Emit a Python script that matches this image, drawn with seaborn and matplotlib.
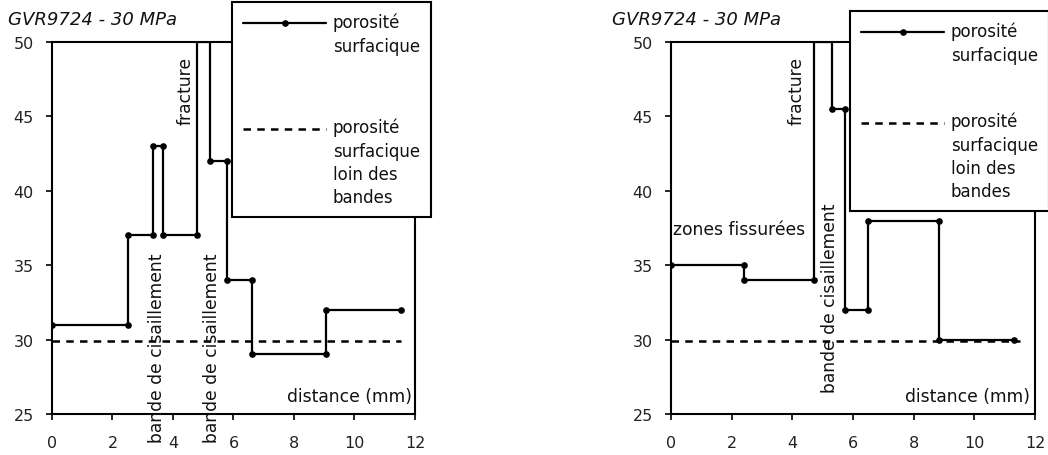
import numpy as np
import pandas as pd
import seaborn as sns
import matplotlib.pyplot as plt
from matplotlib.legend_handler import HandlerLine2D

# profil 1 (gauche) : distance (mm) / porosité surfacique (%)
dist_a = [0, 2.5, 2.5, 3.33, 3.33, 3.68, 3.68, 4.8, 4.8, 5.22, 5.22, 5.8, 5.8, 6.6, 6.6, 9.05, 9.05, 11.55]
poro_a = [31, 31, 37, 37, 43, 43, 37, 37, 50, 50, 42, 42, 34, 34, 29, 29, 32, 32]
# profil 2 (droite)
dist_b = [0, 2.42, 2.42, 4.73, 4.73, 5.32, 5.32, 5.72, 5.72, 6.48, 6.48, 8.82, 8.82, 11.3]
poro_b = [35, 35, 34, 34, 50, 50, 45.5, 45.5, 32, 32, 38, 38, 30, 30]
# porosité loin des bandes
loin_x_a = [0, 11.55]
loin_x_b = [0, 11.5]
loin_y = [29.9, 29.9]

titre = "GVR9724 - 30 MPa"
lab_poro = "porosité\nsurfacique"
lab_loin = "porosité\nsurfacique\nloin des\nbandes"
xticks = [0, 2, 4, 6, 8, 10, 12]
yticks = [25, 30, 35, 40, 45, 50]

# annotations: (texte, x, y, rotation, ha, va)
notes_a = [("fracture", 4.42, 44.5, 90, "center", "bottom"),
           ("bande de cisaillement", 3.47, 23.1, 90, "center", "bottom"),
           ("bande de cisaillement", 5.3, 23.1, 90, "center", "bottom"),
           ("distance (mm)", 11.9, 26.2, 0, "right", "center")]
notes_b = [("fracture", 4.14, 44.5, 90, "center", "bottom"),
           ("bande de cisaillement", 5.24, 26.5, 90, "center", "bottom"),
           ("zones fissurées", 0.05, 37.4, 0, "left", "center"),
           ("distance (mm)", 11.84, 26.2, 0, "right", "center")]

sns.set_style("ticks")
plt.rcParams['font.family'] = ['DejaVu Sans']
FS_TICK = 11.5
FS_TXT = 12.3
FS_LEG = 12
LS = 1.38
D = 16.5  # distance entre lignes du texte de légende, en points

fig = plt.figure(figsize=(10.48, 4.56), dpi=100)
ax1 = fig.add_axes([52 / 1048, 1 - 415 / 456, 363 / 1048, 372 / 456])
ax2 = fig.add_axes([671 / 1048, 1 - 415 / 456, 364 / 1048, 372 / 456])

offsets = {lab_poro: 0.5 * D, lab_loin: 1.5 * D}


def move_handle(legline, orig):
    legline.update_from(orig)
    legline.set_markevery([1])
    legline.set_ydata(np.asarray(legline.get_ydata()) + offsets[orig.get_label()])


def draw_panel(ax, dx, dy, lx, notes, leg_xy, labspace, title_x):
    df = pd.DataFrame({"distance": dx, "porosite": dy})
    mk = [i for i, v in enumerate(dy) if v < 50]
    sns.lineplot(data=df, x="distance", y="porosite", sort=False, estimator=None,
                 errorbar=None, ax=ax, color="black", lw=1.6, marker="o",
                 markersize=4.8, markeredgewidth=0, markevery=mk, label=lab_poro)
    sns.lineplot(x=lx, y=loin_y, ax=ax, color="black", lw=1.8,
                 linestyle=(0, (3, 2.5)), label=lab_loin)
    ax.set_xlim(0, 12)
    ax.set_ylim(25, 50)
    ax.set_xticks(xticks)
    ax.set_yticks(yticks)
    ax.set(xlabel="", ylabel="")
    for s in ax.spines.values():
        s.set_visible(True)
        s.set_color("black")
        s.set_linewidth(1.5)
    ax.tick_params(axis="both", direction="out", length=4, width=1.2,
                   colors="black", labelsize=FS_TICK, labelcolor="#222222")
    ax.tick_params(axis="x", pad=11)
    ax.tick_params(axis="y", pad=9)
    for txt, x, y, rot, ha, va in notes:
        ax.text(x, y, txt, rotation=rot, ha=ha, va=va, fontsize=FS_TXT, color="#111111")
    fig.text(title_x, 1 - 20 / 456, titre, fontsize=13, style="italic",
             ha="left", va="center", color="#111111")
    handles, labels = ax.get_legend_handles_labels()
    leg = ax.legend(handles, labels, loc="upper left", bbox_to_anchor=leg_xy,
                    bbox_transform=fig.transFigure, borderaxespad=0,
                    fontsize=FS_LEG, handlelength=5.0, handletextpad=0.4,
                    borderpad=0.65, labelspacing=labspace, fancybox=False,
                    framealpha=1, numpoints=1,
                    handler_map={l: HandlerLine2D(update_func=move_handle) for l in handles})
    leg.get_frame().set_edgecolor("black")
    leg.get_frame().set_linewidth(1.5)
    for t in leg.get_texts():
        t.set_linespacing(LS)
        t.set_color("#111111")


draw_panel(ax1, dist_a, poro_a, loin_x_a, notes_a, (232 / 1048, 1 - 3 / 456), 3.8, 8 / 1048)
draw_panel(ax2, dist_b, poro_b, loin_x_b, notes_b, (850 / 1048, 1 - 12 / 456), 2.9, 612 / 1048)

fig.savefig("out.png", dpi=100)
